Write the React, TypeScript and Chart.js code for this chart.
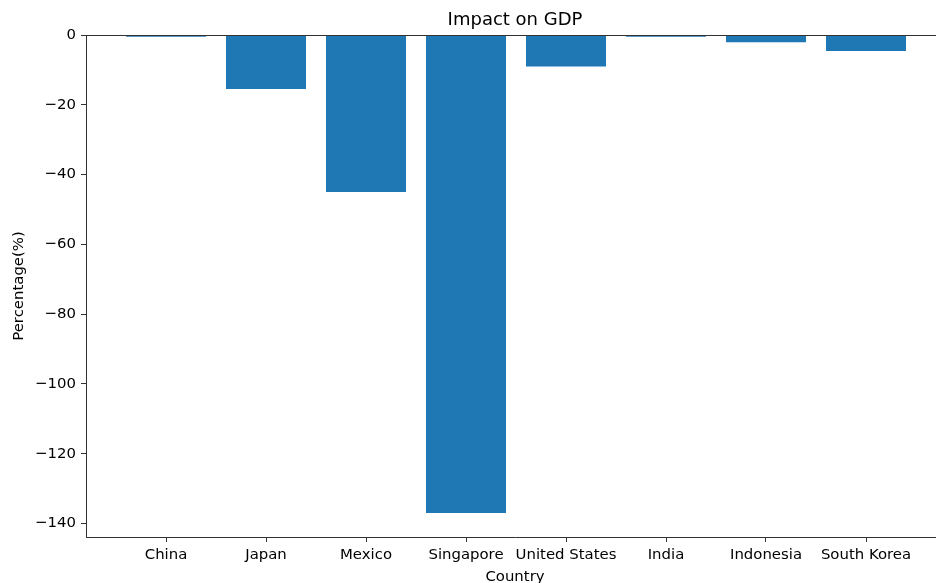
import { useEffect, useRef } from 'react';
import { Chart, registerables } from 'chart.js';

Chart.register(...registerables);

const countries = ['China', 'Japan', 'Mexico', 'Singapore', 'United States', 'India', 'Indonesia', 'South Korea'];
const impact = [-0.5, -15.5, -45, -137, -9, -0.5, -2.1, -4.6];
const yTicks = [0, -20, -40, -60, -80, -100, -120, -140];

const titleText = 'Impact on GDP';
const xTitle = 'Country';
const yTitle = 'Percentage(%)';

const FONT = "'DejaVu Sans', sans-serif";

export default function App() {
  const ref = useRef<HTMLCanvasElement | null>(null);

  useEffect(() => {
    if (!ref.current) return;
    const textPlugin = {
      id: 'mplText',
      afterDraw(chart: any) {
        const { ctx, chartArea } = chart;
        ctx.save();
        // top spine
        ctx.strokeStyle = '#333';
        ctx.lineWidth = 1;
        ctx.beginPath();
        ctx.moveTo(chartArea.left, chartArea.top + 0.5);
        ctx.lineTo(chartArea.right, chartArea.top + 0.5);
        ctx.stroke();
        ctx.fillStyle = '#000';
        ctx.textAlign = 'center';
        ctx.textBaseline = 'alphabetic';
        const cx = (chartArea.left + chartArea.right) / 2;
        ctx.font = `18px ${FONT}`;
        ctx.fillText(titleText, cx, 25);
        ctx.font = `14.9px ${FONT}`;
        ctx.fillText(xTitle, cx, 580.5);
        ctx.translate(19.5, (chartArea.top + chartArea.bottom) / 2);
        ctx.rotate(-Math.PI / 2);
        ctx.textBaseline = 'middle';
        ctx.fillText(yTitle, 0, 0);
        ctx.restore();
      },
    };

    const chart = new Chart(ref.current, {
      type: 'bar',
      data: {
        datasets: [
          {
            data: countries.map((_, i) => ({ x: i, y: impact[i] })),
            backgroundColor: '#1f77b4',
            borderWidth: 0,
            barPercentage: 0.8,
            categoryPercentage: 1.0,
          },
        ],
      },
      options: {
        animation: false,
        responsive: false,
        devicePixelRatio: 1,
        layout: { padding: { top: 35, left: 0, right: 16, bottom: 0 } },
        plugins: {
          legend: { display: false },
          title: { display: false },
          tooltip: { enabled: false },
        },
        scales: {
          x: {
            type: 'linear',
            min: -0.8,
            max: 7.78,
            offset: false,
            afterBuildTicks: (scale: any) => {
              scale.ticks = countries.map((_, i) => ({ value: i }));
            },
            afterFit: (scale: any) => {
              scale.height = 63;
            },
            grid: {
              display: true,
              offset: false,
              drawOnChartArea: false,
              drawTicks: true,
              tickLength: 5,
              tickColor: '#333',
              tickWidth: 1,
            },
            border: { display: true, color: '#333', width: 1 },
            ticks: {
              autoSkip: false,
              maxRotation: 0,
              padding: 4,
              color: '#000',
              font: { family: FONT, size: 14.9 },
              callback: (v: any) => countries[Math.round(Number(v))] ?? '',
            },
          },
          y: {
            type: 'linear',
            min: -143.85,
            max: 0,
            afterBuildTicks: (scale: any) => {
              scale.ticks = yTicks.map((v) => ({ value: v }));
            },
            afterFit: (scale: any) => {
              scale.width = 86;
            },
            grid: {
              display: true,
              drawOnChartArea: false,
              drawTicks: true,
              tickLength: 5,
              tickColor: '#333',
              tickWidth: 1,
            },
            border: { display: true, color: '#333', width: 1 },
            ticks: {
              padding: 5,
              color: '#000',
              font: { family: FONT, size: 14.9 },
              callback: (v: any) => {
                const n = Number(v);
                return n < 0 ? '\u2212' + Math.abs(n) : String(n);
              },
            },
          },
        },
      },
      plugins: [textPlugin],
    });
    return () => chart.destroy();
  }, []);

  return (
    <div style={{ position: 'fixed', left: 0, top: 0, width: 936, height: 583, overflow: 'hidden', background: '#fff' }}>
      <canvas ref={ref} width={960} height={600} style={{ display: 'block', width: 960, height: 600 }} />
    </div>
  );
}
